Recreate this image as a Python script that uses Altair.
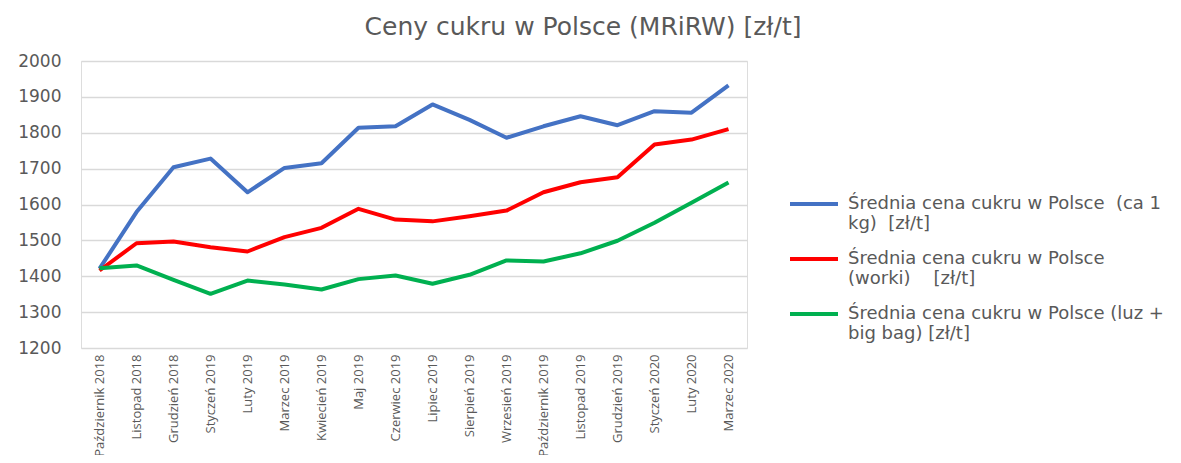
import altair as alt
import pandas as pd

months = ["Październik 2018", "Listopad 2018", "Grudzień 2018", "Styczeń 2019", "Luty 2019",
          "Marzec 2019", "Kwiecień 2019", "Maj 2019", "Czerwiec 2019", "Lipiec 2019",
          "Sierpień 2019", "Wrzesień 2019", "Październik 2019", "Listopad 2019", "Grudzień 2019",
          "Styczeń 2020", "Luty 2020", "Marzec 2020"]

series_names = ["Średnia cena cukru w Polsce  (ca 1 kg)  [zł/t]",
                "Średnia cena cukru w Polsce (worki)    [zł/t]",
                "Średnia cena cukru w Polsce (luz + big bag) [zł/t]"]

blue = [1421, 1579, 1704, 1728, 1634, 1702, 1715, 1814, 1818, 1879, 1836, 1786,
        1818, 1846, 1821, 1860, 1856, 1932]
red = [1416, 1492, 1497, 1481, 1469, 1509, 1535, 1588, 1558, 1553, 1567, 1583,
       1634, 1662, 1676, 1767, 1781, 1810]
green = [1422, 1430, 1390, 1351, 1388, 1377, 1363, 1392, 1402, 1379, 1404, 1444,
         1441, 1464, 1499, 1549, 1605, 1661]

colors = ["#4472C4", "#FF0000", "#00B050"]

rows = []
for name, vals in zip(series_names, [blue, red, green]):
    for i, (m, v) in enumerate(zip(months, vals)):
        rows.append({"month": m, "idx": i, "series": name, "value": v})
df = pd.DataFrame(rows)

NB = "\u00a0"
label_expr = (
    "datum.label == '" + series_names[0] + "' ? ['Średnia cena cukru w Polsce " + NB + "(ca 1', 'kg) " + NB + "[zł/t]'] : "
    "datum.label == '" + series_names[1] + "' ? ['Średnia cena cukru w Polsce', '(worki) " + NB * 3 + "[zł/t]'] : "
    "['Średnia cena cukru w Polsce (luz +', 'big bag) [zł/t]']"
)

WIDE = "DejaVu Sans"
FONT = "Open Sans"
GRAY = "#595959"

chart = alt.Chart(df).mark_line(strokeWidth=4, strokeJoin="round", strokeCap="butt").encode(
    x=alt.X("month:N", sort=months, title=None,
            scale=alt.Scale(type="point", padding=0.5),
            axis=alt.Axis(labelAngle=-90, labelFontSize=13, labelColor=GRAY, labelFont=FONT,
                          ticks=False, domain=False, labelPadding=6, grid=False)),
    y=alt.Y("value:Q", title=None,
            scale=alt.Scale(domain=[1200, 2000], nice=False, zero=False),
            axis=alt.Axis(values=list(range(1200, 2001, 100)), format="d", labelFontSize=17,
                          labelColor=GRAY, labelFont=WIDE, ticks=False, domain=False,
                          labelPadding=20, grid=True, gridColor="#D9D9D9", gridWidth=1.5)),
    color=alt.Color("series:N", sort=series_names,
                    scale=alt.Scale(domain=series_names, range=colors),
                    legend=alt.Legend(title=None, orient="none", legendX=707, legendY=117,
                                      symbolType="stroke", symbolSize=2304, symbolStrokeWidth=4,
                                      labelFontSize=18, labelColor=GRAY, labelFont=WIDE,
                                      labelLimit=400, rowPadding=0, labelExpr=label_expr,
                                      labelOffset=8)),
    order="idx:Q",
).properties(
    width=666, height=287,
    title=alt.TitleParams("Ceny cukru w Polsce (MRiRW) [zł/t]", fontSize=25, color=GRAY,
                          font=WIDE, fontWeight="normal", anchor="middle", dx=169, offset=12),
    autosize=alt.AutoSizeParams(type="none"),
    padding={"left": 73, "top": 53, "right": 426, "bottom": 107},
).configure_view(stroke=None).configure(background="white")

chart.save("out.html", embed_options={"renderer": "svg", "actions": False})
